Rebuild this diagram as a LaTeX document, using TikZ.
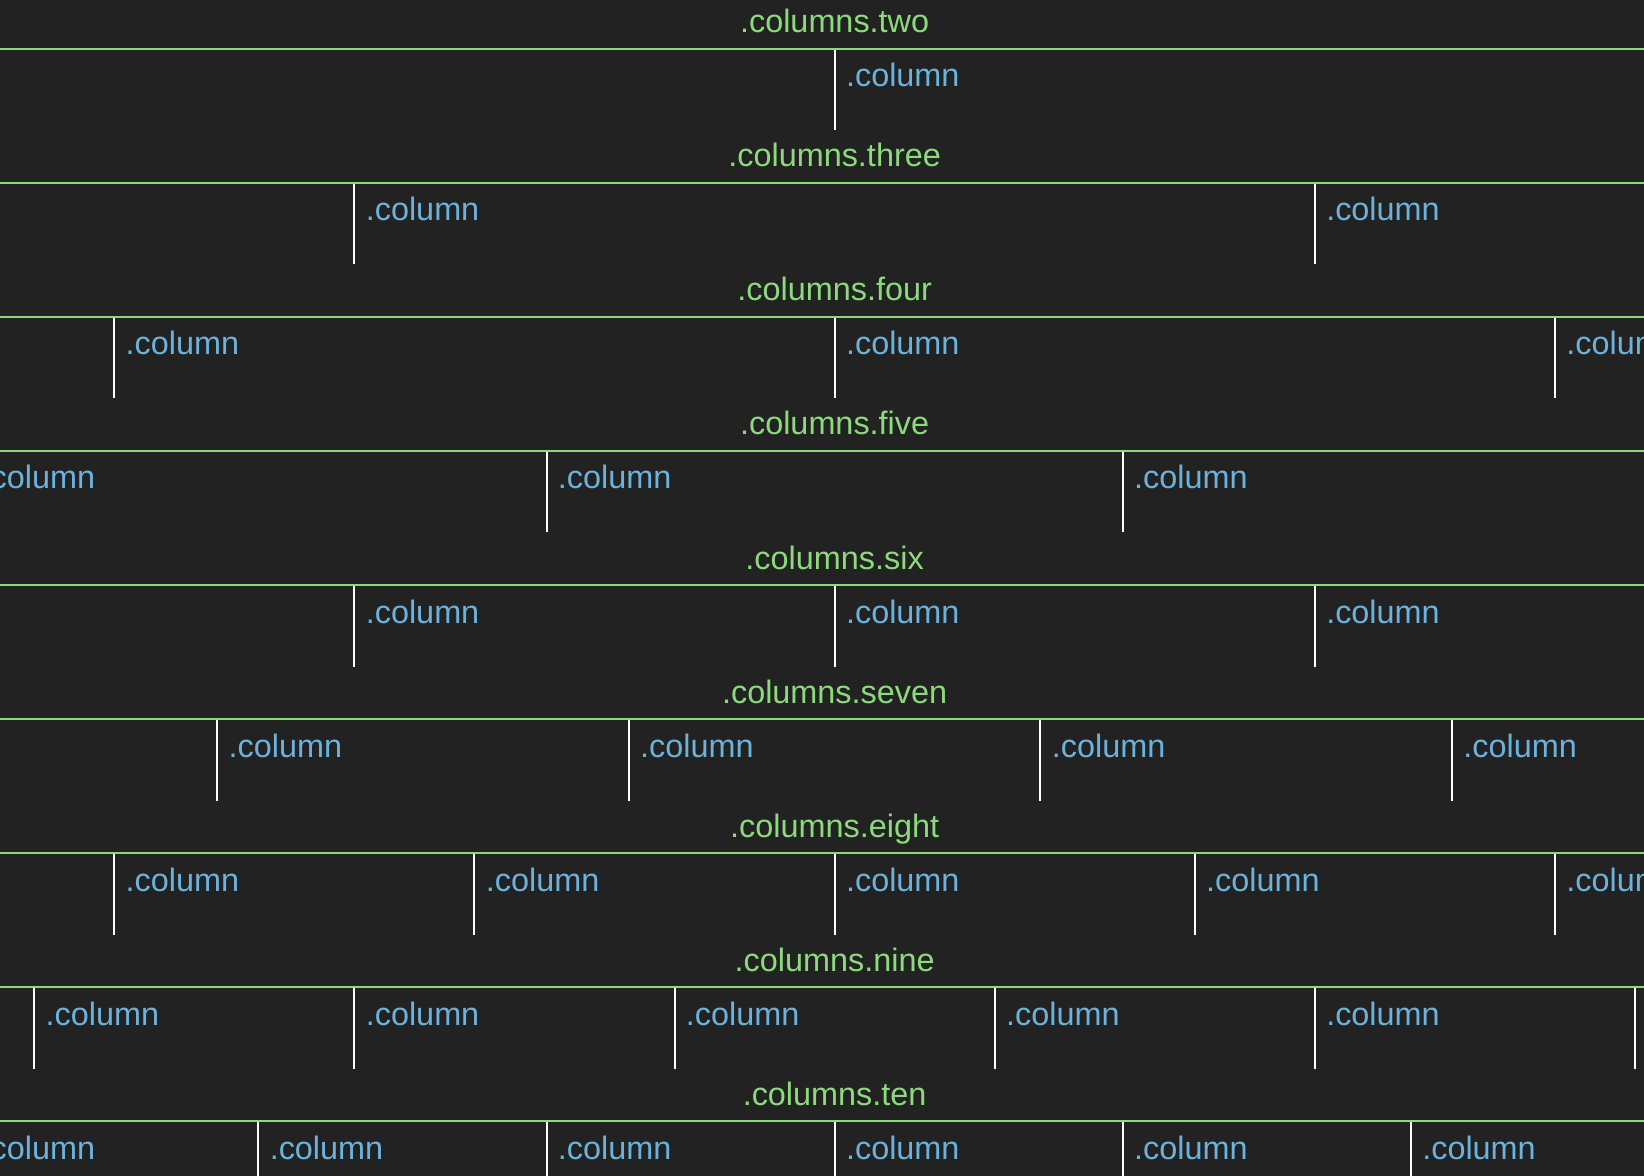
\documentclass[tikz,border=0pt]{standalone}
\usepackage{fontspec}
\setmainfont{Liberation Sans}
\definecolor{pagebg}{HTML}{222222}
\definecolor{rowgreen}{HTML}{8BDB7B}
\definecolor{colblue}{HTML}{6BB2DC}

\begin{document}
\begin{tikzpicture}[
x=0.5pt, y=-0.5pt,
rowline/.style={draw=rowgreen, line width=1.1pt},
divider/.style={draw=white, line width=1pt},
rowtitle/.style={text=rowgreen, anchor=base, inner sep=0pt, font=\fontsize{16.2}{19}\selectfont},
coltext/.style={text=colblue, anchor=base west, inner sep=0pt, font=\fontsize{16.2}{19}\selectfont}
]
\fill[pagebg] (0,0) rectangle (1644,1176);
\useasboundingbox (0,0) rectangle (1644,1176);
\clip (0,0) rectangle (1644,1176);

% one row per column count, container wider than the page
\foreach \n/\word [count=\k from 0] in {2/two,3/three,4/four,5/five,6/six,7/seven,8/eight,9/nine,10/ten} {
  \pgfmathsetmacro{\rowy}{48.8+\k*134.05}
  \pgfmathtruncatemacro{\last}{\n-1}
  \node[rowtitle] (title-\word) at (834.6, \rowy-16) {.columns.\word};
  \coordinate (west-\word) at (0,\rowy);
  \coordinate (east-\word) at (1644,\rowy);
  \draw[rowline] (west-\word) -- (east-\word);
  \foreach \i in {1,...,\last} {
    \pgfmathsetmacro{\colx}{-606+(\i/\n)*2881.3}
    \coordinate (div-\word-\i-a) at (\colx, \rowy+1.2);
    \coordinate (div-\word-\i-b) at (\colx, \rowy+81.5);
    \draw[divider] (div-\word-\i-a) -- (div-\word-\i-b);
    \node[coltext] (col-\word-\i) at (\colx+11, \rowy+38) {.column};
  }
}
\end{tikzpicture}
\end{document}
